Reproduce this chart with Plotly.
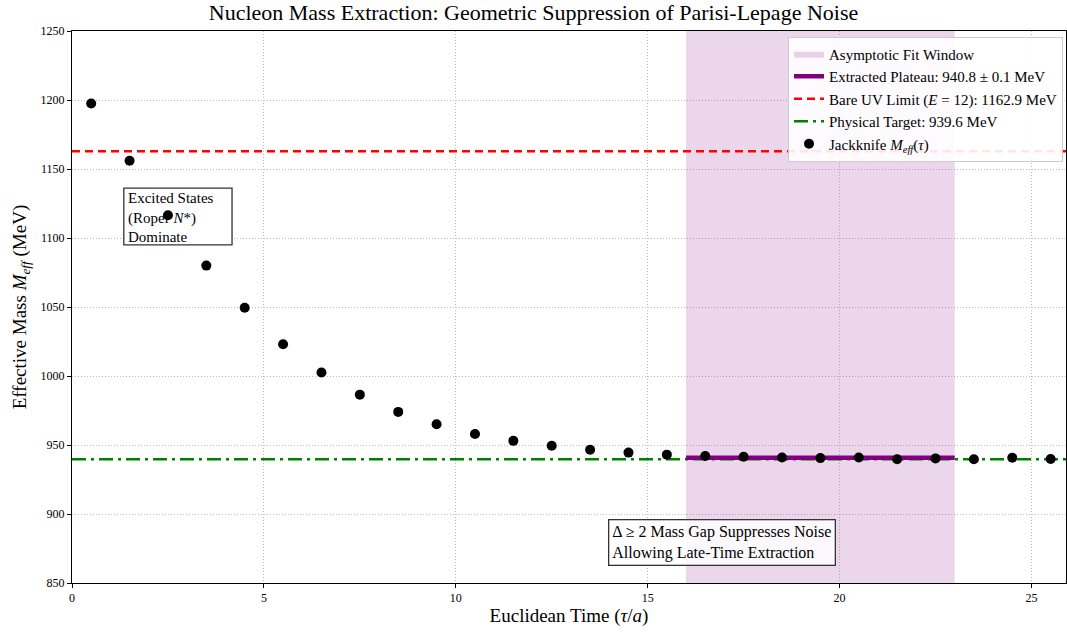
import plotly.graph_objects as go

tau = [0.5, 1.5, 2.5, 3.5, 4.5, 5.5, 6.5, 7.5, 8.5, 9.5, 10.5, 11.5, 12.5,
       13.5, 14.5, 15.5, 16.5, 17.5, 18.5, 19.5, 20.5, 21.5, 22.5, 23.5, 24.5, 25.5]
m_eff = [1197.5, 1156.0, 1116.5, 1080.0, 1049.5, 1023.0, 1002.5, 986.5, 974.0,
         965.0, 958.0, 953.0, 949.5, 946.5, 944.5, 943.0, 942.0, 941.5, 941.0,
         940.5, 941.0, 939.7, 940.3, 939.7, 940.8, 939.8]
m_err = [0.4] * len(tau)

fit_window = [16, 23]
plateau = 940.8
uv_limit = 1162.9
physical = 939.6
x_range = [0, 25.9]
y_range = [850, 1250]

SERIF = "Liberation Serif, DejaVu Serif, serif"

fig = go.Figure()

fig.add_trace(go.Scatter(
    x=[fit_window[0], fit_window[1], fit_window[1], fit_window[0], fit_window[0]],
    y=[y_range[0], y_range[0], y_range[1], y_range[1], y_range[0]],
    fill="toself", fillcolor="rgba(128,0,128,0.16)", mode="lines",
    line=dict(width=0, color="rgba(0,0,0,0)"),
    name="Asymptotic Fit Window", legendrank=1, hoverinfo="skip"))

fig.add_trace(go.Scatter(
    x=x_range, y=[uv_limit, uv_limit], mode="lines",
    line=dict(color="#ff0000", width=2.5, dash="8px,5px"),
    name="Bare UV Limit (<i>E</i> = 12): 1162.9 MeV", legendrank=3))

fig.add_trace(go.Scatter(
    x=x_range, y=[physical, physical], mode="lines",
    line=dict(color="#008000", width=2.5, dash="14px,5px,3px,5px"),
    name="Physical Target: 939.6 MeV", legendrank=4))

fig.add_trace(go.Scatter(
    x=fit_window, y=[plateau, plateau], mode="lines",
    line=dict(color="#800080", width=4.5),
    name="Extracted Plateau: 940.8 ± 0.1 MeV", legendrank=2))

fig.add_trace(go.Scatter(
    x=tau, y=m_eff, mode="markers",
    marker=dict(color="black", size=10),
    error_y=dict(type="data", array=m_err, color="black", thickness=1, width=4),
    name="Jackknife <i>M<sub>eff</sub></i>(<i>τ</i>)", legendrank=5))

# box behind the points for the first note (points drawn over it, as in the reference)
fig.add_shape(type="rect", xref="x", yref="y", x0=1.35, x1=4.17, y0=1095, y1=1136.2,
              layer="between", fillcolor="white",
              line=dict(color="#333333", width=1.3))
fig.add_annotation(
    x=1.35, y=1136.2, xref="x", yref="y", xanchor="left", yanchor="top",
    xshift=3, yshift=-1,
    text="Excited States<br>(Roper <i>N</i>*)<br>Dominate", showarrow=False,
    align="left", font=dict(family=SERIF, size=15, color="black"),
    borderpad=0)

fig.add_annotation(
    x=16.94, y=879, xref="x", yref="y", xanchor="center", yanchor="middle",
    text="Δ ≥ 2 Mass Gap Suppresses Noise<br>Allowing Late-Time Extraction",
    showarrow=False, align="left",
    font=dict(family=SERIF, size=16, color="black"),
    bordercolor="#333333", borderwidth=1.3, borderpad=3,
    bgcolor="rgba(255,255,255,0.85)")

axis_common = dict(
    showline=True, linecolor="black", linewidth=1, mirror=True,
    ticks="outside", ticklen=4, tickcolor="black",
    showgrid=True, gridcolor="#bbbbbb", griddash="1px,2px", gridwidth=1,
    zeroline=False, tickfont=dict(family=SERIF, size=12, color="black"))

fig.update_xaxes(range=x_range, tickvals=[0, 5, 10, 15, 20, 25],
                 title=dict(text="Euclidean Time (<i>τ</i>/<i>a</i>)",
                            font=dict(family=SERIF, size=19, color="black"),
                            standoff=4),
                 **axis_common)
fig.update_yaxes(range=y_range, tickvals=list(range(850, 1251, 50)),
                 title=dict(text="Effective Mass <i>M<sub>eff</sub></i> (MeV)",
                            font=dict(family=SERIF, size=19, color="black"),
                            standoff=8),
                 **axis_common)

fig.update_layout(
    width=1067, height=632,
    paper_bgcolor="white", plot_bgcolor="white",
    margin=dict(l=72, r=1, t=31, b=49),
    title=dict(text="Nucleon Mass Extraction: Geometric Suppression of Parisi-Lepage Noise",
               x=0.5, xanchor="center", y=0.993, yanchor="top",
               font=dict(family=SERIF, size=22, color="black")),
    legend=dict(x=0.997, y=0.99, xanchor="right", yanchor="top",
                bgcolor="rgba(255,255,255,0.9)", bordercolor="#cccccc",
                borderwidth=1, font=dict(family=SERIF, size=15, color="black"),
                tracegroupgap=0, itemwidth=30),
    showlegend=True,
)

fig.write_html("out.html", config={"displayModeBar": False},
               post_script="document.body.style.margin='0';document.body.style.overflow='hidden';")
